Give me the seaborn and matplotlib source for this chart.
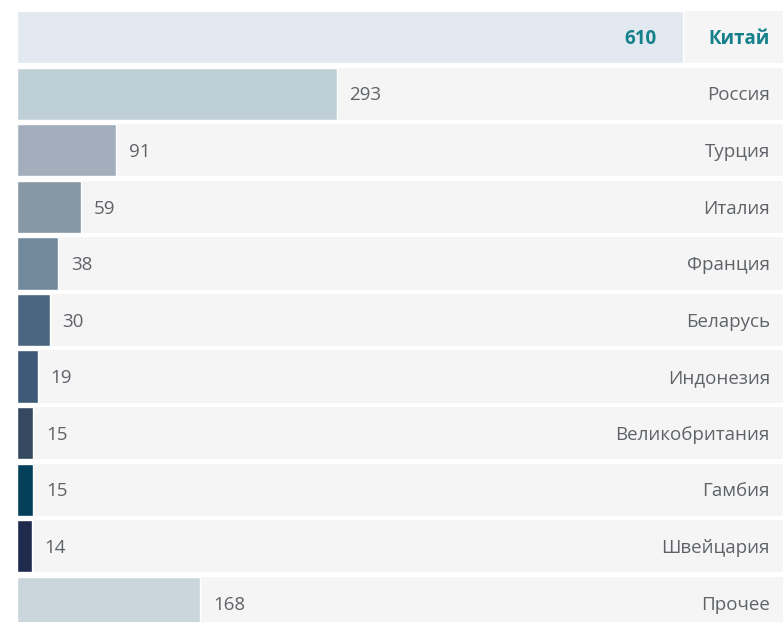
"""
Horizontal bar chart: countries by count, top item highlighted.
"""
import pandas as pd
import seaborn as sns
from matplotlib import pyplot as plt
from matplotlib import transforms

COUNTRIES = ['Китай', 'Россия', 'Турция', 'Италия', 'Франция', 'Беларусь',
             'Индонезия', 'Великобритания', 'Гамбия', 'Швейцария', 'Прочее']
VALUES = [610, 293, 91, 59, 38, 30, 19, 15, 15, 14, 168]
BAR_COLORS = ['#e1e8ef', '#bfcfd6', '#a2aebc', '#8797a4', '#72899c',
              '#4a6680', '#3f5a78', '#34495f', '#05405a', '#1f2a4d',
              '#cbd6dc']

ROW_BG = '#f5f5f5'
TEXT_COLOR = '#5f6368'
HIGHLIGHT = '#13808c'
FONT = ['Open Sans', 'DejaVu Sans']
FONT_SIZE = 13.5

df = pd.DataFrame({'country': COUNTRIES, 'value': VALUES})

sns.set_style('white')
plt.rcParams['font.family'] = FONT

W, H = 783, 622
fig = plt.figure(figsize=(W / 100, H / 100), dpi=100)
ax = fig.add_axes([17 / W, -7 / H, 766 / W, 618 / H])

half = 0.4625
for i in range(len(COUNTRIES)):
    ax.axhspan(i - half, i + half, color=ROW_BG, zorder=0, lw=0)

sns.barplot(data=df, x='value', y='country', hue='country',
            palette=BAR_COLORS, orient='h', width=2 * half, legend=False,
            saturation=1, ax=ax, zorder=2)

ax.set_xlim(0, 702)
ax.set_ylim(len(COUNTRIES) - 1 + half, -half)
ax.axis('off')

trans = transforms.blended_transform_factory(ax.transAxes, ax.transData)
for i, (name, val) in enumerate(zip(COUNTRIES, VALUES)):
    top = i == 0
    color = HIGHLIGHT if top else TEXT_COLOR
    weight = 'bold' if top else 'normal'
    ax.text(0.983, i + 0.03, name, transform=trans, ha='right', va='center',
            fontsize=FONT_SIZE, color=color, fontweight=weight)
    if top:
        ax.annotate(str(val), xy=(val, i + 0.03), xytext=(-19, 0),
                    textcoords='offset points', ha='right', va='center',
                    fontsize=FONT_SIZE, color=color, fontweight=weight)
    else:
        ax.annotate(str(val), xy=(val, i + 0.03), xytext=(9, 0),
                    textcoords='offset points', ha='left', va='center',
                    fontsize=FONT_SIZE, color=color)

plt.savefig('out.png', dpi=100)
